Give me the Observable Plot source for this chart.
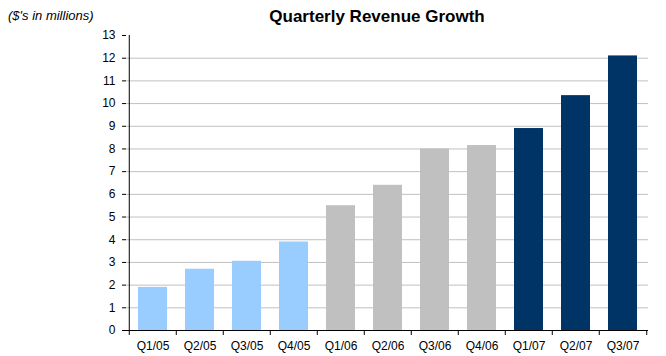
<!DOCTYPE html>
<html>
<head>
<meta charset="utf-8">
<script src="https://cdn.jsdelivr.net/npm/d3@7"></script>
<script src="https://cdn.jsdelivr.net/npm/@observablehq/plot@0.6"></script>
<style>
  body { margin: 0; background: #fff; }
  #wrap { position: relative; width: 666px; height: 356px; font-family: "Liberation Sans", Arial, sans-serif; }
  #title { position: absolute; left: 0; width: 754px; top: 7px; text-align: center; font-weight: bold; font-size: 17px; color: #000; }
  #sub { position: absolute; left: 8px; top: 8px; font-style: italic; font-size: 13px; color: #000; }
  #chart { position: absolute; left: 0; top: 0; }
</style>
</head>
<body>
<div id="wrap">
  <div id="chart"></div>
  <div id="sub">($'s in millions)</div>
  <div id="title">Quarterly Revenue Growth</div>
</div>
<script>
const quarters = ["Q1/05","Q2/05","Q3/05","Q4/05","Q1/06","Q2/06","Q3/06","Q4/06","Q1/07","Q2/07","Q3/07"];
const revenue  = [1.9, 2.7, 3.05, 3.9, 5.5, 6.4, 8.0, 8.15, 8.9, 10.35, 12.1];
const years    = ["2005","2005","2005","2005","2006","2006","2006","2006","2007","2007","2007"];
const yearColors = ["#99ccff", "#c0c0c0", "#003366"];
const yTicks = [0,1,2,3,4,5,6,7,8,9,10,11,12,13];
const gridTicks = [1,2,3,4,5,6,7,8,9,10,11,12];

const data = quarters.map((q, i) => ({quarter: q, value: revenue[i], year: years[i]}));

const W = 666, H = 356;
const mL = 126, mR = 18, mT = 35, mB = 26;
const step = (W - mL - mR) / quarters.length;

const chart = Plot.plot({
  width: W,
  height: H,
  marginLeft: mL,
  marginRight: mR,
  marginTop: mT,
  marginBottom: mB,
  style: {fontFamily: "Liberation Sans, Arial, sans-serif", fontSize: "12px", color: "#000", background: "#fff"},
  x: {type: "band", domain: quarters, paddingInner: 0.39, paddingOuter: 0.195, label: null},
  y: {domain: [0, 13], label: null},
  color: {domain: ["2005","2006","2007"], range: yearColors},
  marks: [
    Plot.ruleY(gridTicks, {stroke: "#c0c0c0", strokeWidth: 1}),
    Plot.barY(data, {x: "quarter", y: "value", fill: "year"}),
    Plot.ruleY([0], {stroke: "#000", strokeWidth: 1}),
    // left axis line
    Plot.ruleX([quarters[0]], {y1: 0, y2: 13, dx: -step / 2, stroke: "#000"}),
    // category boundary ticks
    Plot.ruleX(quarters, {y1: 0, y2: -0.22, dx: -step / 2, stroke: "#000"}),
    Plot.ruleX([quarters[quarters.length - 1]], {y1: 0, y2: -0.22, dx: step / 2, stroke: "#000"}),
    Plot.axisY({ticks: yTicks, tickSize: 4, tickPadding: 7, tickFormat: d => d, anchor: "left", label: null, stroke: "#000", fill: "#000"}),
    Plot.axisX({tickSize: 0, tickPadding: 11, label: null, fill: "#000"})
  ]
});
document.getElementById("chart").appendChild(chart);
</script>
</body>
</html>
